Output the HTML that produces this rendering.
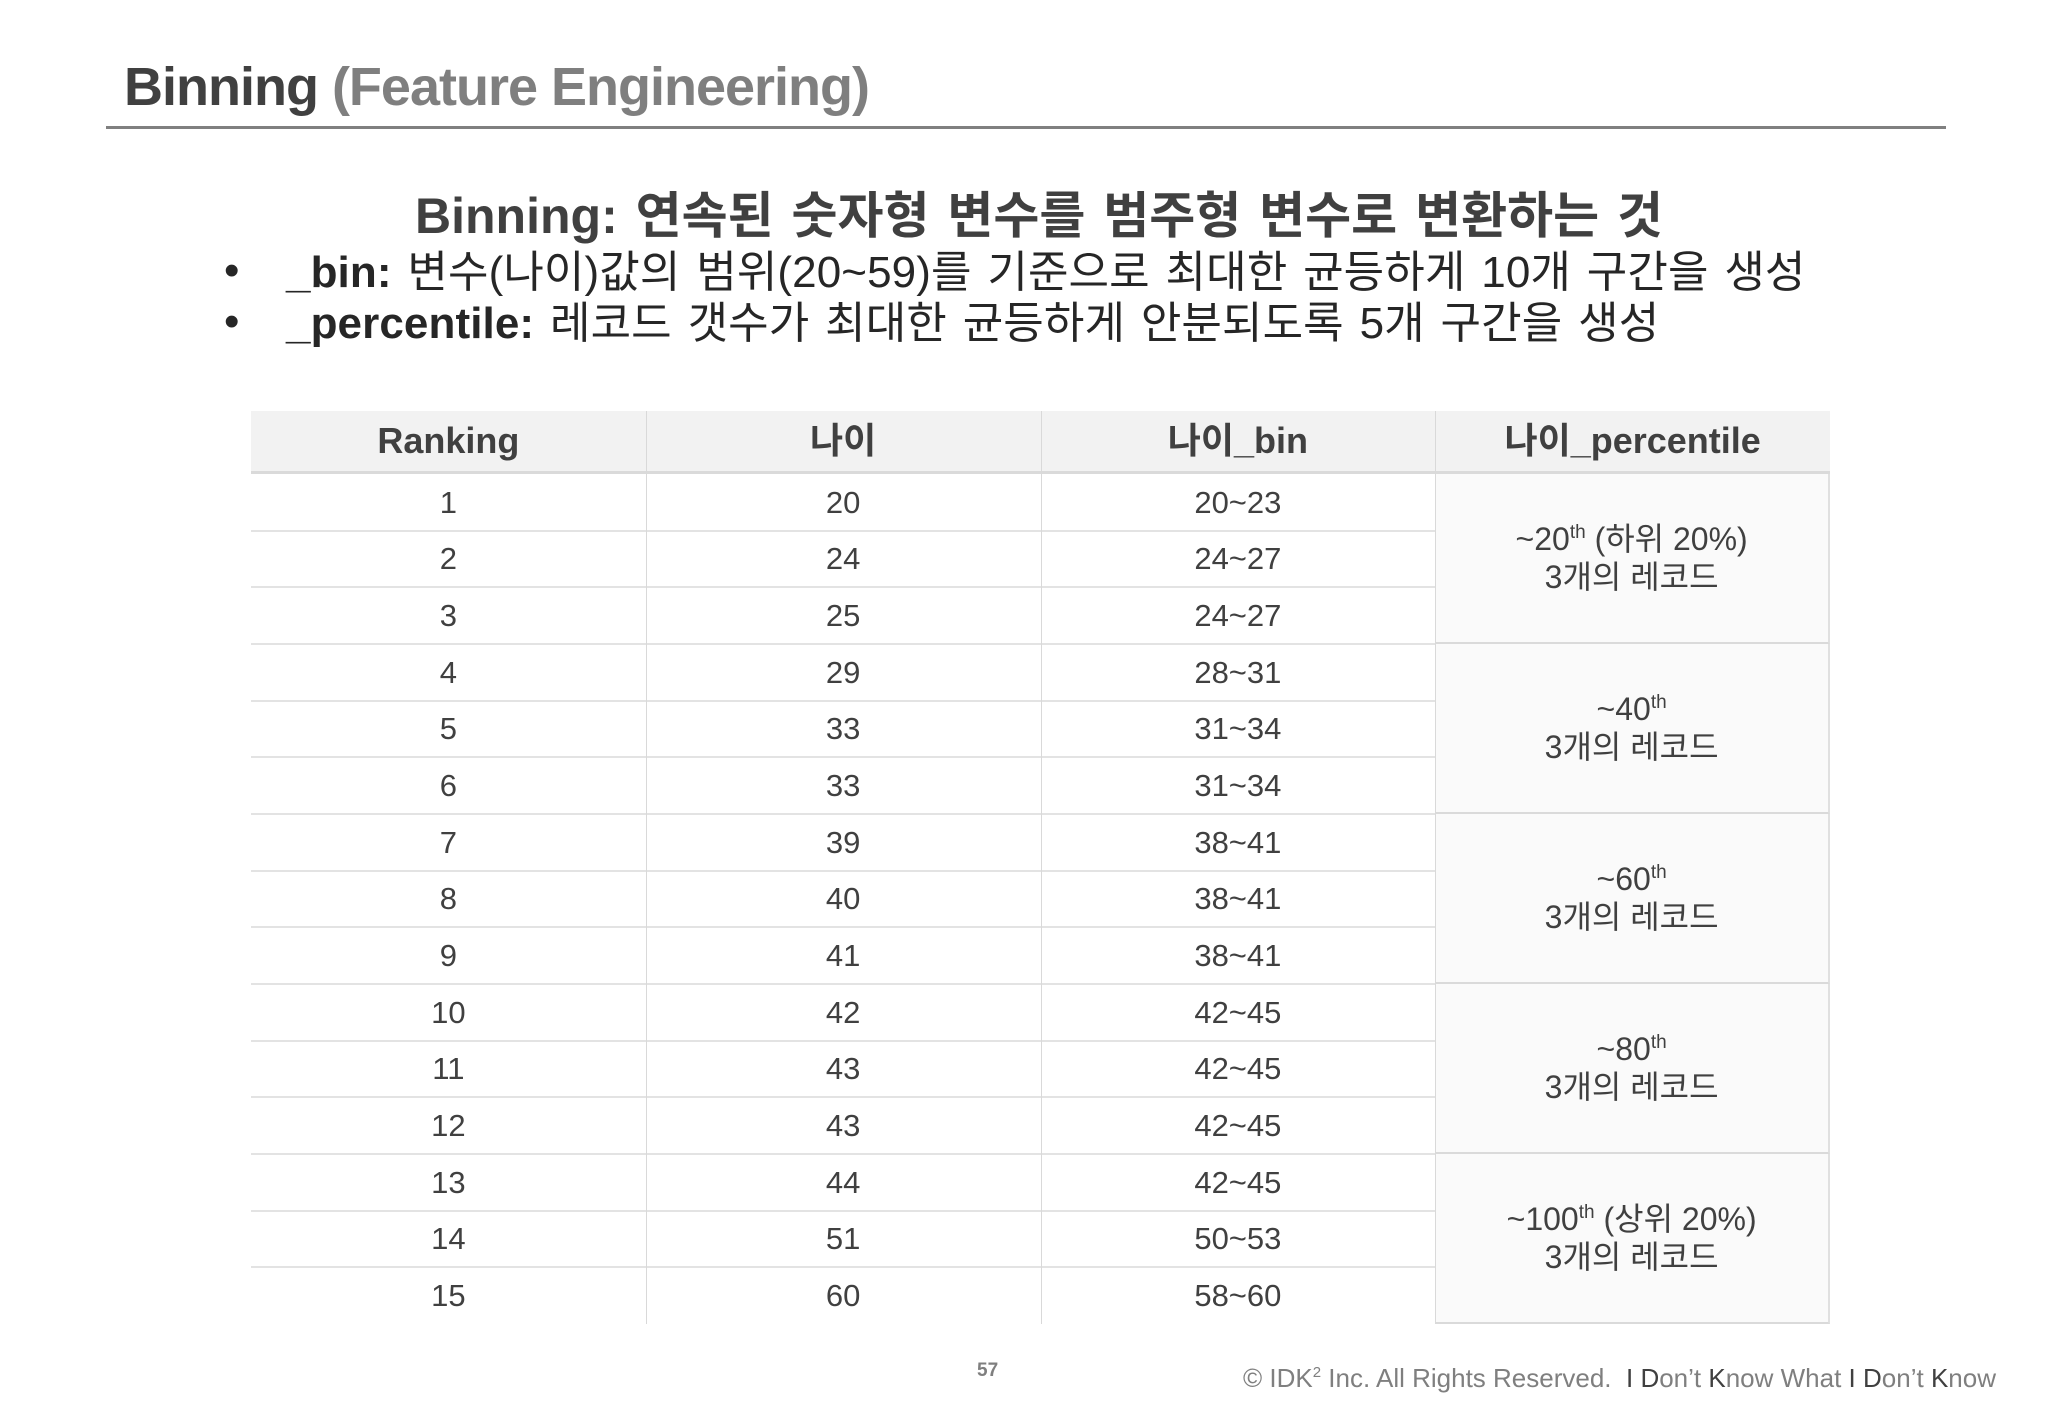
<!DOCTYPE html>
<html><head><meta charset="utf-8">
<style>
body{margin:0;width:2048px;height:1418px;background:#fff;position:relative;overflow:hidden;font-family:"Liberation Sans","Noto Sans CJK KR",sans-serif;color:#404040}
.abs{position:absolute;white-space:nowrap}
#title{left:124px;top:56px;font-size:54px;font-weight:bold;color:#404040;letter-spacing:-1px}
#title span{color:#7f7f7f}
#rule{left:106px;top:126px;width:1840px;height:3px;background:#808080}
#sub{left:0;width:2078px;text-align:center;top:176px;font-size:50px;font-weight:bold;color:#404040;word-spacing:4px;letter-spacing:0px}
.bl{left:226px;font-size:44px;color:#262626;letter-spacing:0.1px;word-spacing:3.5px}
.bl b{font-weight:bold}
.bl i{font-style:normal;position:absolute;left:-2px;top:10px}
.bl .t{margin-left:60px}
#tbl{position:absolute;left:251px;top:411px;width:1579px;height:913px}
.cell{position:absolute;display:flex;align-items:center;justify-content:center;text-align:center;font-size:31px;color:#404040;box-sizing:border-box;line-height:1.2}
.hd{background:#f2f2f2;font-weight:bold;font-size:36px;border-bottom:3px solid #dadada}
.vl{position:absolute;width:1px;background:#d9d9d9}
.hl{position:absolute;height:2px;background:#e3e3e3}
.pc{background:#fafafa;border-bottom:2px solid #dadada;border-right:2px solid #e0e0e0;font-size:32px}
sup{font-size:19px;vertical-align:12px;line-height:0}
#pg{left:977px;top:1360px;font-size:19px;font-weight:bold;color:#7f7f7f}
#ft{right:52px;top:1363px;font-size:26px;color:#7f7f7f;letter-spacing:0px}
#ft b{font-weight:normal;color:#404040}
</style></head><body>
<div class="abs" id="title">Binning <span>(Feature Engineering)</span></div>
<div class="abs" id="rule"></div>
<div class="abs" id="sub">Binning: 연속된 숫자형 변수를 범주형 변수로 변환하는 것</div>
<div class="abs bl" style="top:236px"><i>•</i><span class="t"><b>_bin:</b> 변수(나이)값의 범위(20~59)를 기준으로 최대한 균등하게 10개 구간을 생성</span></div>
<div class="abs bl" style="top:287px"><i>•</i><span class="t"><b>_percentile:</b> 레코드 갯수가 최대한 균등하게 안분되도록 5개 구간을 생성</span></div>
<div id="tbl"></div>
<div class="abs" id="pg">57</div>
<div class="abs" id="ft">© IDK<sup style="font-size:15px;vertical-align:10px">2</sup> Inc. All Rights Reserved.&nbsp; <b>I</b> <b>D</b>on’t <b>K</b>now What <b>I</b> <b>D</b>on’t <b>K</b>now</div>
<script>
const headers=["Ranking","나이","나이_bin","나이_percentile"];
const ranks=[1,2,3,4,5,6,7,8,9,10,11,12,13,14,15];
const ages=[20,24,25,29,33,33,39,40,41,42,43,43,44,51,60];
const bins=["20~23","24~27","24~27","28~31","31~34","31~34","38~41","38~41","38~41","42~45","42~45","42~45","42~45","50~53","58~60"];
const pctLabels=["~20<sup>th</sup> (하위 20%)","~40<sup>th</sup>","~60<sup>th</sup>","~80<sup>th</sup>","~100<sup>th</sup> (상위 20%)"];
const pctSize=[3,3,3,3,3];
const T=document.getElementById('tbl');
const colW=1579/4,headH=63,rowH=(913-63)/ranks.length;
function mk(cls,x,y,w,h,html){const d=document.createElement('div');d.className=cls;d.style.left=x+'px';d.style.top=y+'px';d.style.width=w+'px';d.style.height=h+'px';if(html!==undefined)d.innerHTML='<span>'+html+'</span>';T.appendChild(d);return d;}
headers.forEach((h,i)=>{const d=mk('cell hd',i*colW,0,colW,headH,h);

});
ranks.forEach((r,i)=>{const y=headH+i*rowH;
[r,ages[i],bins[i]].forEach((v,c)=>{const d=mk('cell',c*colW,y,colW,rowH,v);

});
if(i<ranks.length-1){const l=mk('hl',0,y+rowH-1,colW*3,2);

}});
let start=0;
pctLabels.forEach((p,k)=>{const y=headH+start*rowH;const h=pctSize[k]*rowH;
const d=mk('cell pc',colW*3,y,colW,h,p+'<br>'+pctSize[k]+'개의 레코드');


start+=pctSize[k];});
[1,2,3].forEach(c=>{const l=mk('vl',c*colW,0,1,913);

});
</script>
</body></html>
